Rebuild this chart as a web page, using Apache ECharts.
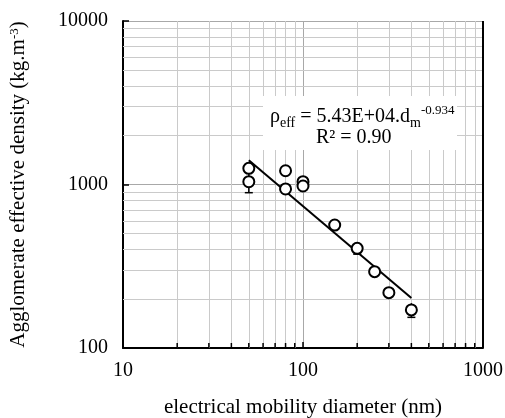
<!DOCTYPE html>
<html>
<head>
<meta charset="utf-8">
<script src="https://cdn.jsdelivr.net/npm/echarts@6/dist/echarts.min.js"></script>
<style>html,body{margin:0;padding:0;background:#fff}#c{width:505px;height:418px}</style>
</head>
<body>
<div id="c"></div>
<script>
// Measured points
const pointX = [50, 50, 80, 80, 100, 100, 150, 200, 250, 300, 400];
const pointY = [1256, 1040, 1214, 939, 1040, 979, 565, 407, 293, 218, 171];
// Error bars
const errX = [50, 200, 400];
const errLow = [891, 375, 154];
const errHigh = [1190, 440, 188];
// Power-law fit line endpoints
const fitX = [50, 400];
const fitY = [1407, 202];
// Axis ticks
const xMinor = [20,30,40,50,60,70,80,90,200,300,400,500,600,700,800,900];
const yMinor = [200,300,400,500,600,700,800,900,2000,3000,4000,5000,6000,7000,8000,9000];

const FONT = 'Liberation Serif';
const chart = echarts.init(document.getElementById('c'), null, {renderer: 'canvas'});

const minorLines = [];
xMinor.forEach(v => minorLines.push({xAxis: v}));
yMinor.forEach(v => minorLines.push({yAxis: v}));

function tickRender(isX) {
  return function (params, api) {
    const v = api.value(0);
    const p = isX ? api.coord([v, 100]) : api.coord([10, v]);
    const len = 5;
    const shape = isX ? {x1: p[0], y1: p[1], x2: p[0], y2: p[1] - len}
                      : {x1: p[0], y1: p[1], x2: p[0] + len, y2: p[1]};
    return {type: 'line', shape: shape, style: {stroke: '#000', lineWidth: 1.5}};
  };
}
const plain = v => String(Math.round(v));

chart.setOption({
  animation: false,
  backgroundColor: '#fff',
  grid: {left: 123, top: 21, width: 360, height: 327, show: false, containLabel: false, outerBoundsMode: 'none'},
  xAxis: {
    type: 'log', logBase: 10, min: 10, max: 1000,
    name: 'electrical mobility diameter (nm)',
    nameLocation: 'middle', nameGap: 49,
    nameTextStyle: {fontFamily: FONT, fontSize: 21, color: '#000'},
    axisLine: {show: true, onZero: false, lineStyle: {color: '#000', width: 2}},
    axisTick: {show: true, inside: true, length: 6, lineStyle: {color: '#000', width: 1.5}},
    axisLabel: {fontFamily: FONT, fontSize: 20, color: '#000', margin: 13, formatter: plain},
    splitLine: {show: true, lineStyle: {color: '#a8a8a8', width: 1}}
  },
  yAxis: {
    type: 'log', logBase: 10, min: 100, max: 10000,
    name: 'Agglomerate effective density (kg.m{sup|-3})',
    nameLocation: 'middle', nameGap: 94,
    nameTextStyle: {fontFamily: FONT, fontSize: 21, color: '#000',
      rich: {sup: {fontFamily: FONT, fontSize: 13, color: '#000', verticalAlign: 'top'}}},
    axisLine: {show: true, onZero: false, lineStyle: {color: '#000', width: 2}},
    axisTick: {show: true, inside: true, length: 6, lineStyle: {color: '#000', width: 1.5}},
    axisLabel: {fontFamily: FONT, fontSize: 20, color: '#000', margin: 15, formatter: plain},
    splitLine: {show: true, lineStyle: {color: '#a8a8a8', width: 1}}
  },
  series: [
    {
      type: 'line', data: [], silent: true,
      markLine: {
        silent: true, symbol: 'none', label: {show: false},
        lineStyle: {color: '#cacaca', width: 1, type: 'solid'},
        data: minorLines
      }
    },
    {
      type: 'line', data: [], silent: true,
      markLine: {
        silent: true, symbol: 'none', label: {show: false},
        lineStyle: {color: '#000', width: 2, type: 'solid'},
        data: [{xAxis: 1000}]
      }
    },
    {
      type: 'custom', renderItem: tickRender(true), silent: true, clip: false,
      data: xMinor.map(v => [v, 100]), z: 5
    },
    {
      type: 'custom', renderItem: tickRender(false), silent: true, clip: false,
      data: yMinor.map(v => [10, v]), encode: {x: 0, y: 1}, z: 5
    },
    {
      type: 'line', data: fitX.map((x, i) => [x, fitY[i]]),
      showSymbol: false, symbol: 'none', lineStyle: {color: '#000', width: 2}, z: 6
    },
    {
      type: 'custom', z: 7,
      data: errX.map((x, i) => [x, errLow[i], errHigh[i]]),
      renderItem: function (params, api) {
        const x = api.value(0);
        const lo = api.coord([x, api.value(1)]);
        const hi = api.coord([x, api.value(2)]);
        const w = 4;
        return {type: 'group', children: [
          {type: 'line', shape: {x1: lo[0], y1: lo[1], x2: hi[0], y2: hi[1]}, style: {stroke: '#000', lineWidth: 1.5}},
          {type: 'line', shape: {x1: lo[0] - w, y1: lo[1], x2: lo[0] + w, y2: lo[1]}, style: {stroke: '#000', lineWidth: 1.5}}
        ]};
      }
    },
    {
      type: 'scatter', z: 8,
      data: pointX.map((x, i) => [x, pointY[i]]),
      symbol: 'circle', symbolSize: 11,
      itemStyle: {color: '#fff', borderColor: '#000', borderWidth: 2, opacity: 1}
    }
  ],
  graphic: [
    {
      type: 'rect', z: 100,
      shape: {x: 263, y: 96, width: 194, height: 54},
      style: {fill: '#fff'}
    },
    {
      type: 'text', z: 101, left: 270, top: 104,
      style: {
        text: '{m|ρ}{sub|eff}{m| = 5.43E+04.d}{sub|m}{sup|-0.934}',
        rich: {
          m: {fontFamily: FONT, fontSize: 20, color: '#000', lineHeight: 26, verticalAlign: 'middle'},
          sub: {fontFamily: FONT, fontSize: 14, color: '#000', lineHeight: 26, verticalAlign: 'bottom'},
          sup: {fontFamily: FONT, fontSize: 13, color: '#000', lineHeight: 26, verticalAlign: 'top'}
        }
      }
    },
    {
      type: 'text', z: 101, left: 316, top: 128,
      style: {text: 'R² = 0.90', font: '20px "Liberation Serif"', fill: '#000'}
    }
  ]
});
</script>
</body>
</html>
